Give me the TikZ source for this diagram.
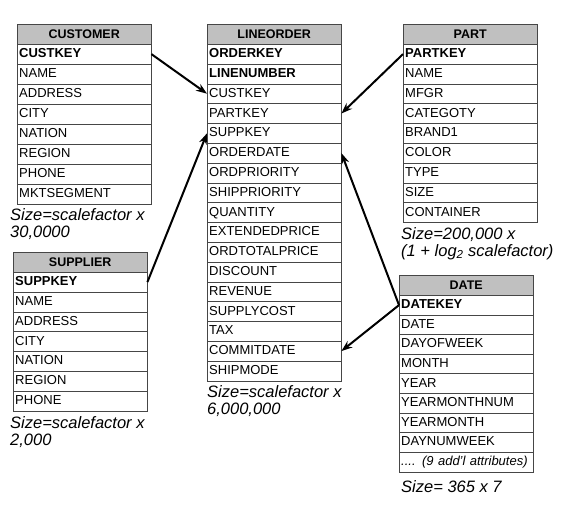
\documentclass[tikz,border=0pt]{standalone}
\usepackage{fontspec}
\setmainfont{Liberation Sans}
\usetikzlibrary{arrows.meta,positioning}
\definecolor{ssbHead}{RGB}{192,192,192}
\definecolor{ssbLine}{RGB}{ 70, 70, 70}
\newcommand\datemore{{\itshape .... (9 add'l attributes)}}

\begin{document}
\begin{tikzpicture}[x=1pt,y=-1pt,
  >={Stealth[length=11pt,width=8pt]},
  tblhead/.style={draw=ssbLine,fill=ssbHead,anchor=north west,
               minimum width=134pt,minimum height=20pt,inner sep=0pt,
               font=\fontsize{12.5}{14}\selectfont\bfseries},
  tblrow/.style={draw=ssbLine,fill=white,anchor=north west,
               text width=130pt,inner xsep=2pt,inner ysep=0pt,
               minimum height=19.8pt,align=left,text height=9.5pt,
               text depth=2.5pt,font=\fontsize{13}{15}\selectfont},
  sizenote/.style={anchor=north west,inner sep=0pt,align=left,
               font=\fontsize{16.5}{17}\selectfont\itshape},
  fk/.style={->,line width=2pt,black},
]
\clip (0,0) rectangle (569,512);

% customer
\node[tblhead] (cust) at (17,24) {CUSTOMER};
\foreach \f [count=\i] in {CUSTKEY,NAME,ADDRESS,CITY,NATION,REGION,PHONE,MKTSEGMENT}
  \node[tblrow] (cust-\i) at (17,{44+(\i-1)*20}) {\ifnum\i=1 \bfseries\fi\f};
\node[sizenote] (custsize) at (10,208) {Size=scalefactor x\\30,0000};

% supplier
\node[tblhead] (supp) at (13,252) {SUPPLIER};
\foreach \f [count=\i] in {SUPPKEY,NAME,ADDRESS,CITY,NATION,REGION,PHONE}
  \node[tblrow] (supp-\i) at (13,{272+(\i-1)*19.8}) {\ifnum\i=1 \bfseries\fi\f};
\node[sizenote] (suppsize) at (10,416) {Size=scalefactor x\\2,000};

% lineorder (fact table)
\node[tblhead] (lo) at (207,24) {LINEORDER};
\foreach \f [count=\i] in {ORDERKEY,LINENUMBER,CUSTKEY,PARTKEY,SUPPKEY,ORDERDATE,
    ORDPRIORITY,SHIPPRIORITY,QUANTITY,EXTENDEDPRICE,ORDTOTALPRICE,DISCOUNT,
    REVENUE,SUPPLYCOST,TAX,COMMITDATE,SHIPMODE}
  \node[tblrow] (lo-\i) at (207,{44+(\i-1)*19.8}) {\ifnum\i<3 \bfseries\fi\f};
\node[sizenote] (losize) at (207,385) {Size=scalefactor x\\6,000,000};

% part
\node[tblhead] (part) at (403,24) {PART};
\foreach \f [count=\i] in {PARTKEY,NAME,MFGR,CATEGOTY,BRAND1,COLOR,TYPE,SIZE,CONTAINER}
  \node[tblrow] (part-\i) at (403,{44+(\i-1)*19.8}) {\ifnum\i=1 \bfseries\fi\f};
\node[sizenote] (partsize) at (401,227) {Size=200,000 x\\(1 + log\textsubscript{2} scalefactor)};

% date
\node[tblhead] (date) at (399,275) {DATE};
\foreach \f [count=\i] in {DATEKEY,DATE,DAYOFWEEK,MONTH,YEAR,YEARMONTHNUM,YEARMONTH,
    DAYNUMWEEK,\datemore}
  \node[tblrow] (date-\i) at (399,{295+(\i-1)*19.6}) {\ifnum\i=1 \bfseries\fi\f};
\node[sizenote] (datesize) at (401,480) {Size= 365 x 7};

% foreign keys
\draw[fk] (cust-1.east) -- (lo-3.west);
\draw[fk] (supp-1.east) -- (lo-5.west);
\draw[fk] (part-1.west) -- (lo-4.east);
\draw[fk] (date-1.west) -- (lo-6.east);
\draw[fk] (date-1.west) -- (lo-16.east);
\end{tikzpicture}
\end{document}
